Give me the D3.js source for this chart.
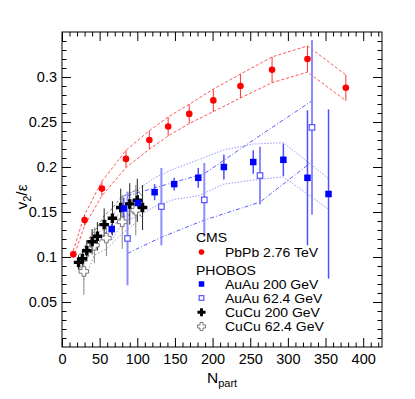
<!DOCTYPE html>
<html>
<head>
<meta charset="utf-8">
<script src="https://cdn.jsdelivr.net/npm/d3@7"></script>
<style>
  html, body { margin: 0; padding: 0; background: #fff; }
  svg { display: block; font-family: "Liberation Sans", Arial, Helvetica, sans-serif; }
</style>
</head>
<body>
<svg id="chart" width="415" height="399"></svg>
<script>
// ---------------- data ----------------
// CMS PbPb 2.76 TeV
const cmsN   = [15, 30, 53, 85, 116, 141, 169, 201, 237, 279, 326, 377];
const cmsV   = [0.103, 0.141, 0.176, 0.209, 0.230, 0.245, 0.259, 0.274, 0.290, 0.308, 0.320, 0.288];
const cmsErr = [0.004, 0.006, 0.008, 0.0096, 0.0103, 0.0105, 0.0107, 0.0125, 0.0133, 0.0143, 0.0145, 0.0143];

// PHOBOS AuAu 200 GeV
const auau200N   = [66, 82, 101, 123, 149, 181, 215, 254, 294, 326, 354];
const auau200V   = [0.131, 0.154, 0.160, 0.172, 0.181, 0.188, 0.200, 0.2055, 0.208, 0.188, 0.170];
const auau200Err = [0.006, 0.012, 0.009, 0.009, 0.007, 0.011, 0.014, 0.013, 0.018, 0.075, 0.094];
const auau200Sys = [0.012, 0.014, 0.015, 0.016, 0.017, 0.020, 0.019, 0.020, 0.019, 0.018, 0.017];

// PHOBOS AuAu 62.4 GeV
const auau62N      = [87, 132, 189, 263, 332];
const auau62V      = [0.1206, 0.156, 0.1635, 0.1905, 0.244];
const auau62Err    = [0.052, 0.043, 0.041, 0.032, 0.097];
const auau62BandHi = [0.168, 0.179, 0.1926, 0.235, 0.2735];
const auau62BandLo = [0.104, 0.122, 0.141, 0.161, 0.206];

// PHOBOS CuCu 200 GeV
const cucu200N   = [22, 27, 33, 40, 47, 56, 67, 78, 90, 100, 107];
const cucu200V   = [0.094, 0.098, 0.107, 0.117, 0.123, 0.136, 0.143, 0.155, 0.159, 0.163, 0.155];
const cucu200Err = [0.008, 0.010, 0.012, 0.014, 0.016, 0.018, 0.019, 0.021, 0.023, 0.024, 0.025];
const cucu200Sys = [0.008, 0.008, 0.009, 0.009, 0.010, 0.010, 0.011, 0.011, 0.012, 0.012, 0.012];

// PHOBOS CuCu 62.4 GeV
const cucu62N   = [29, 43, 59, 80, 98];
const cucu62V   = [0.084, 0.113, 0.121, 0.139, 0.152];
const cucu62Err = [0.026, 0.020, 0.020, 0.030, 0.028];
const cucu62Sys = [0.010, 0.011, 0.012, 0.013, 0.014];

// axis ticks
const xTicks = [0, 50, 100, 150, 200, 250, 300, 350, 400];
const yTicks = [0.05, 0.1, 0.15, 0.2, 0.25, 0.3];
const yTickLabels = ["0.05", "0.1", "0.15", "0.2", "0.25", "0.3"];

// legend
const legendHeaders = ["CMS", "PHOBOS"];
const legendLabels = ["PbPb 2.76 TeV", "AuAu 200 GeV", "AuAu 62.4 GeV", "CuCu 200 GeV", "CuCu 62.4 GeV"];

// ---------------- chart ----------------
const svg = d3.select("#chart");
const W = 415, H = 399;
const mL = 62, mR = 382, mT = 32, mB = 347;

const x = d3.scaleLinear().domain([0, 425]).range([mL, mR]);
const y = d3.scaleLinear().domain([0, 0.35]).range([mB, mT]);

svg.append("rect").attr("width", W).attr("height", H).attr("fill", "#fff");

const xMinor = d3.range(0, 426, 10).filter(v => v % 50 !== 0);
const yMinor = d3.range(1, 35).map(v => v / 100).filter(v => Math.round(v * 100) % 5 !== 0);

const fontSize = 14.5;

// bottom axis
const gB = svg.append("g").attr("transform", `translate(0,${mB})`);
gB.call(d3.axisBottom(x).tickValues(xTicks).tickSize(-9).tickPadding(7).tickFormat(d3.format("d")));
gB.append("g").call(d3.axisBottom(x).tickValues(xMinor).tickSize(-4.5).tickFormat(""));
// top axis
const gT = svg.append("g").attr("transform", `translate(0,${mT})`);
gT.call(d3.axisTop(x).tickValues(xTicks).tickSize(-9).tickFormat(""));
gT.append("g").call(d3.axisTop(x).tickValues(xMinor).tickSize(-4.5).tickFormat(""));
// left axis
const gL = svg.append("g").attr("transform", `translate(${mL},0)`);
gL.call(d3.axisLeft(y).tickValues(yTicks).tickSize(-9).tickPadding(5).tickFormat((d, i) => yTickLabels[i]));
gL.append("g").call(d3.axisLeft(y).tickValues(yMinor).tickSize(-4.5).tickFormat(""));
// right axis
const gR = svg.append("g").attr("transform", `translate(${mR},0)`);
gR.call(d3.axisRight(y).tickValues(yTicks).tickSize(-9).tickFormat(""));
gR.append("g").call(d3.axisRight(y).tickValues(yMinor).tickSize(-4.5).tickFormat(""));

svg.selectAll(".domain").remove();
svg.selectAll(".tick line").attr("stroke", "#000").attr("stroke-width", 1);
svg.selectAll(".tick text").attr("font-size", fontSize).attr("fill", "#000")
   .attr("font-family", "'Liberation Sans', Arial, sans-serif");

// frame
svg.append("rect").attr("x", mL).attr("y", mT).attr("width", mR - mL).attr("height", mB - mT)
   .attr("fill", "none").attr("stroke", "#000").attr("stroke-width", 1);

// axis titles
const xt = svg.append("text").attr("x", 207).attr("y", 383).attr("font-size", 15.5).attr("fill", "#000");
xt.append("tspan").text("N");
xt.append("tspan").attr("font-size", 11).attr("dy", 4).text("part");

const yt = svg.append("text").attr("transform", "translate(27,197) rotate(-90)")
   .attr("text-anchor", "middle").attr("font-size", 15.5).attr("fill", "#000");
yt.append("tspan").text("v");
yt.append("tspan").attr("font-size", 11).attr("dy", 4).text("2");
yt.append("tspan").attr("dy", -4).text("/ε");

// ---------------- helpers ----------------
const plot = svg.append("g");

function bandLines(N, hi, lo, color, dash, width) {
  const line = d3.line().x(d => x(d[0])).y(d => y(d[1]));
  [hi, lo].forEach(arr => {
    plot.append("path").datum(N.map((n, i) => [n, arr[i]]))
      .attr("d", line).attr("fill", "none").attr("stroke", color)
      .attr("stroke-width", width).attr("stroke-dasharray", dash);
  });
}

function errorBars(N, V, E, color, width) {
  plot.append("g").selectAll("line").data(N.map((n, i) => [n, V[i], E[i]])).join("line")
    .attr("x1", d => x(d[0])).attr("x2", d => x(d[0]))
    .attr("y1", d => y(d[1] + d[2])).attr("y2", d => y(d[1] - d[2]))
    .attr("stroke", color).attr("stroke-width", width);
}

function crossPath(L, w) {
  const a = L / 2, b = w / 2;
  return `M${-b},${-a}H${b}V${-b}H${a}V${b}H${b}V${a}H${-b}V${b}H${-a}V${-b}H${-b}Z`;
}

function drawMarker(g, type, cx, cy, s) {
  if (type === "circle") {
    g.append("circle").attr("cx", cx).attr("cy", cy).attr("r", 3.3 * s).attr("fill", "#ff0000");
  } else if (type === "fsquare") {
    const a = 6.5 * s;
    g.append("rect").attr("x", cx - a / 2).attr("y", cy - a / 2).attr("width", a).attr("height", a).attr("fill", "#0000ff");
  } else if (type === "osquare") {
    const a = 5.5 * s;
    g.append("rect").attr("x", cx - a / 2).attr("y", cy - a / 2).attr("width", a).attr("height", a)
      .attr("fill", "#fff").attr("stroke", "#5555ff").attr("stroke-width", 1.2);
  } else if (type === "fcross") {
    g.append("path").attr("transform", `translate(${cx},${cy})`).attr("d", crossPath(9.5 * s, 3.4 * s)).attr("fill", "#000");
  } else if (type === "ocross") {
    g.append("path").attr("transform", `translate(${cx},${cy})`).attr("d", crossPath(9.5 * s, 3.6 * s))
      .attr("fill", "#fff").attr("stroke", "#777").attr("stroke-width", 1);
  }
}

function markers(N, V, type) {
  const g = plot.append("g");
  N.forEach((n, i) => drawMarker(g, type, x(n), y(V[i]), 1));
}

// ---------------- bands ----------------
bandLines(cucu62N, cucu62V.map((v, i) => v + cucu62Sys[i]), cucu62V.map((v, i) => v - cucu62Sys[i]), "#999", "1.5,2", 1);
bandLines(cucu200N, cucu200V.map((v, i) => v + cucu200Sys[i]), cucu200V.map((v, i) => v - cucu200Sys[i]), "#666", "3,2", 0.9);
bandLines(auau62N, auau62BandHi, auau62BandLo, "#5a5aff", "4,2,1,2", 1);
bandLines(auau200N, auau200V.map((v, i) => v + auau200Sys[i]), auau200V.map((v, i) => v - auau200Sys[i]), "#9a9aff", "1.5,1.5", 1);
bandLines(cmsN, cmsV.map((v, i) => v + cmsErr[i]), cmsV.map((v, i) => v - cmsErr[i]), "#ff5555", "3,2", 1);

// ---------------- error bars ----------------
errorBars(cucu62N, cucu62V, cucu62Err, "#888", 1);
errorBars(cucu200N, cucu200V, cucu200Err, "#222", 1);
errorBars(auau62N, auau62V, auau62Err, "#8c8cff", 2);
errorBars(auau200N, auau200V, auau200Err, "#5050ff", 1.5);
errorBars(cmsN, cmsV, cmsErr, "#ff3333", 1);

// ---------------- markers ----------------
markers(cucu62N, cucu62V, "ocross");
markers(cucu200N, cucu200V, "fcross");
markers(auau62N, auau62V, "osquare");
markers(auau200N, auau200V, "fsquare");
markers(cmsN, cmsV, "circle");

// ---------------- legend ----------------
const legFont = 12.6, legTarget = 14;
const lg = svg.append("g").attr("font-size", legFont).attr("fill", "#000");
function legText(tx, ty, str) {
  const t = lg.append("text").attr("x", tx).attr("y", ty).text(str);
  const len = t.node().getComputedTextLength();
  t.attr("textLength", len * legTarget / legFont).attr("lengthAdjust", "spacingAndGlyphs");
}
legText(196, 242, legendHeaders[0]);
legText(196, 274.5, legendHeaders[1]);
const legTypes = ["circle", "fsquare", "osquare", "fcross", "ocross"];
const legY = [256.5, 288.5, 302.5, 316.8, 331];
legTypes.forEach((t, i) => {
  drawMarker(lg, t, 201.5, legY[i] - 4.5, 0.85);
  legText(225, legY[i], legendLabels[i]);
});
</script>
</body>
</html>
